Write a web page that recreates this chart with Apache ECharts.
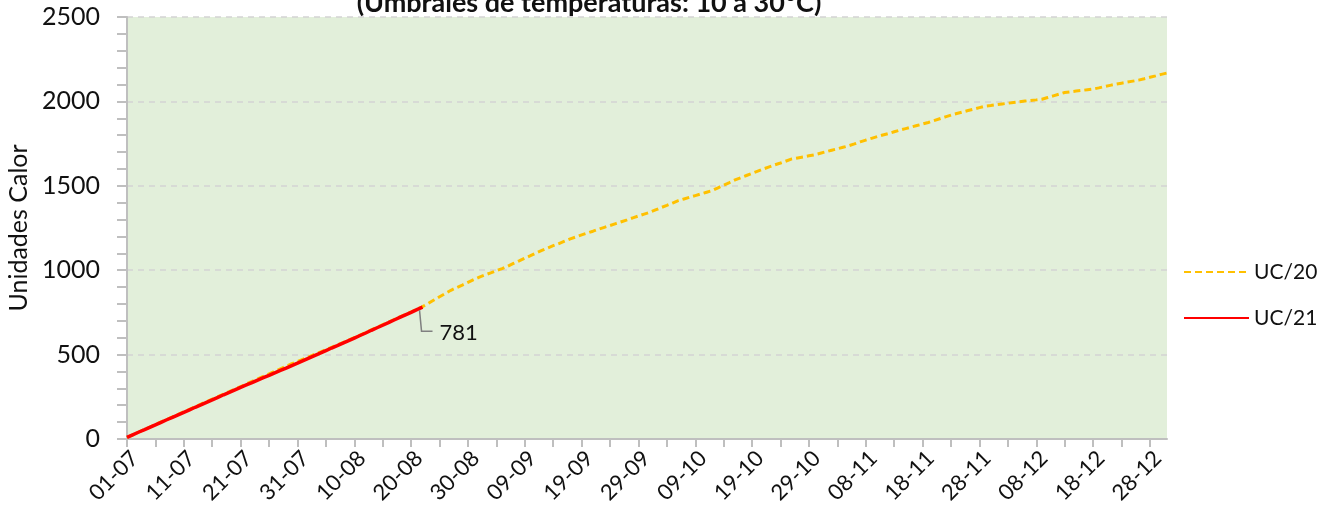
<!DOCTYPE html>
<html><head><meta charset="utf-8">
<script src="https://cdn.jsdelivr.net/npm/echarts@6/dist/echarts.min.js"></script>
<style>html,body{margin:0;padding:0;background:#fff}#c{width:1334px;height:518px}</style>
</head><body><div id="c"></div><script>
// Categories: daily dates 01-07 .. 31-12
const startMonth = 7, endMonth = 12;
const monthDays = {7:31, 8:31, 9:30, 10:31, 11:30, 12:31};
const dates = [];
for (let m = startMonth; m <= endMonth; m++) {
  for (let d = 1; d <= monthDays[m]; d++) {
    dates.push(String(d).padStart(2,'0') + '-' + String(m).padStart(2,'0'));
  }
}
// UC/20 cumulative heat units
const uc20 = [
  10,
  25, 40, 55, 70, 86, 101, 116, 131, 146, 161,
  176, 191, 206, 221, 236, 251, 266, 281, 296, 311,
  326, 341, 356, 371, 386, 401, 416, 431, 446,
  459, 473, 487, 501, 515, 529, 543, 557, 571, 586, 601,
  616, 631, 647, 662, 677, 692, 708, 723, 738, 753, 769, 784,
  803, 823, 843, 862, 881,
  897, 912, 928, 944, 959,
  972, 984, 997, 1009,
  1024, 1040, 1055, 1071, 1086, 1102, 1117,
  1131, 1145, 1158, 1172, 1186,
  1197, 1209, 1220, 1231, 1243, 1254, 1265,
  1276, 1287, 1298, 1310, 1321, 1332, 1343,
  1357, 1371, 1384, 1398, 1412,
  1422, 1432, 1442, 1452, 1462, 1472,
  1488, 1504, 1519, 1535,
  1548, 1561, 1574, 1587, 1600,
  1612, 1624, 1635, 1647, 1659,
  1665, 1671, 1678, 1684,
  1693, 1702, 1711, 1719, 1728, 1737,
  1748, 1760, 1771,
  1781, 1791, 1801, 1810, 1820, 1830,
  1839, 1848, 1857, 1866, 1875,
  1886, 1897, 1908, 1919,
  1928, 1937, 1946, 1954, 1963, 1972,
  1976, 1981, 1985, 1989, 1994, 1998,
  2002, 2006, 2009, 2013,
  2023, 2033, 2043, 2053,
  2057, 2061, 2065, 2069, 2073,
  2080, 2088, 2095, 2102,
  2108, 2114, 2120, 2126,
  2134, 2143, 2151, 2160, 2168
];
// UC/21 cumulative heat units (01-07 .. 22-08)
const uc21 = [
  10, 25, 40, 54, 69, 84, 99, 114, 128, 143, 158,
  173, 188, 202, 217, 232, 247, 262, 276, 291, 306,
  320, 334, 349, 363, 377, 392, 406, 420, 435, 449,
  464, 479, 494, 509, 524, 539, 553, 568, 583, 598,
  613, 628, 644, 659, 674, 689, 705, 720, 735, 750, 766, 781
];
const seriesNames = ['UC/20', 'UC/21'];
const titleText = '(Umbrales de temperaturas: 10 a 30°C)';
const yName = 'Unidades Calor';

const FONT = 'Lato';
const axisGray = '#bfbfbf';
const chart = echarts.init(document.getElementById('c'), null, {renderer: 'canvas'});
chart.setOption({
  animation: false,
  backgroundColor: '#ffffff',
  grid: {left: 127, right: 167, top: 17, bottom: 79, show: true, backgroundColor: '#E2EFDA', borderWidth: 0, containLabel: false, outerBoundsMode: 'none'},
  legend: {
    orient: 'vertical', left: 1178, top: 255, itemWidth: 65, itemHeight: 14, itemGap: 22,
    itemStyle: {opacity: 0},
    textStyle: {fontSize: 21, fontFamily: FONT, color: '#111', lineHeight: 24},
    data: seriesNames
  },
  xAxis: {
    type: 'category', data: dates, boundaryGap: false,
    axisLine: {lineStyle: {color: axisGray, width: 2}},
    axisTick: {interval: 4, length: 8, lineStyle: {color: axisGray, width: 2}},
    axisLabel: {interval: 9, rotate: 45, fontSize: 22, fontFamily: FONT, color: '#111', margin: 8, verticalAlign: 'top', hideOverlap: false},
    splitLine: {show: false}
  },
  yAxis: {
    type: 'value', min: 0, max: 2500, interval: 500,
    name: yName, nameLocation: 'middle', nameGap: 96, nameMoveOverlap: false,
    nameTextStyle: {fontSize: 25, fontFamily: FONT, color: '#111'},
    axisLine: {show: true, lineStyle: {color: axisGray, width: 2}},
    axisTick: {show: true, length: 10, lineStyle: {color: axisGray, width: 2}},
    minorTick: {show: true, splitNumber: 5, length: 10, lineStyle: {color: axisGray, width: 2}},
    axisLabel: {fontSize: 25, fontFamily: FONT, color: '#111', margin: 27, formatter: function (v) { return String(v); }},
    splitLine: {show: true, lineStyle: {type: [6, 5], color: '#d4d4d4', width: 1.5}}
  },
  series: [
    {name: seriesNames[0], type: 'line', data: uc20, symbol: 'none', z: 2,
     lineStyle: {color: '#FFC000', width: 3, type: [7, 4]}, itemStyle: {color: '#FFC000'}},
    {name: seriesNames[1], type: 'line', data: uc21, symbol: 'none', z: 3,
     lineStyle: {color: '#FF0000', width: 3.5}, itemStyle: {color: '#FF0000'}}
  ]
});
const lastIdx = uc21.length - 1;
const p = chart.convertToPixel({xAxisIndex: 0, yAxisIndex: 0}, [dates[lastIdx], uc21[lastIdx]]);
chart.setOption({
  graphic: [
    {type: 'polyline', z: 10, shape: {points: [[p[0] - 3, p[1] + 3], [p[0] - 1, p[1] + 24], [p[0] + 10, p[1] + 24]]},
     style: {stroke: '#808080', fill: null, lineWidth: 1.5}},
    {type: 'text', z: 10, x: p[0] + 17, y: p[1] + 26,
     style: {text: String(uc21[lastIdx]), font: '22px ' + FONT, fill: '#111', verticalAlign: 'middle'}},
    {type: 'text', z: 10, x: 589, y: 3,
     style: {text: titleText, font: 'bold 27px ' + FONT, fill: '#111', align: 'center', verticalAlign: 'middle'}}
  ]
});
</script></body></html>
